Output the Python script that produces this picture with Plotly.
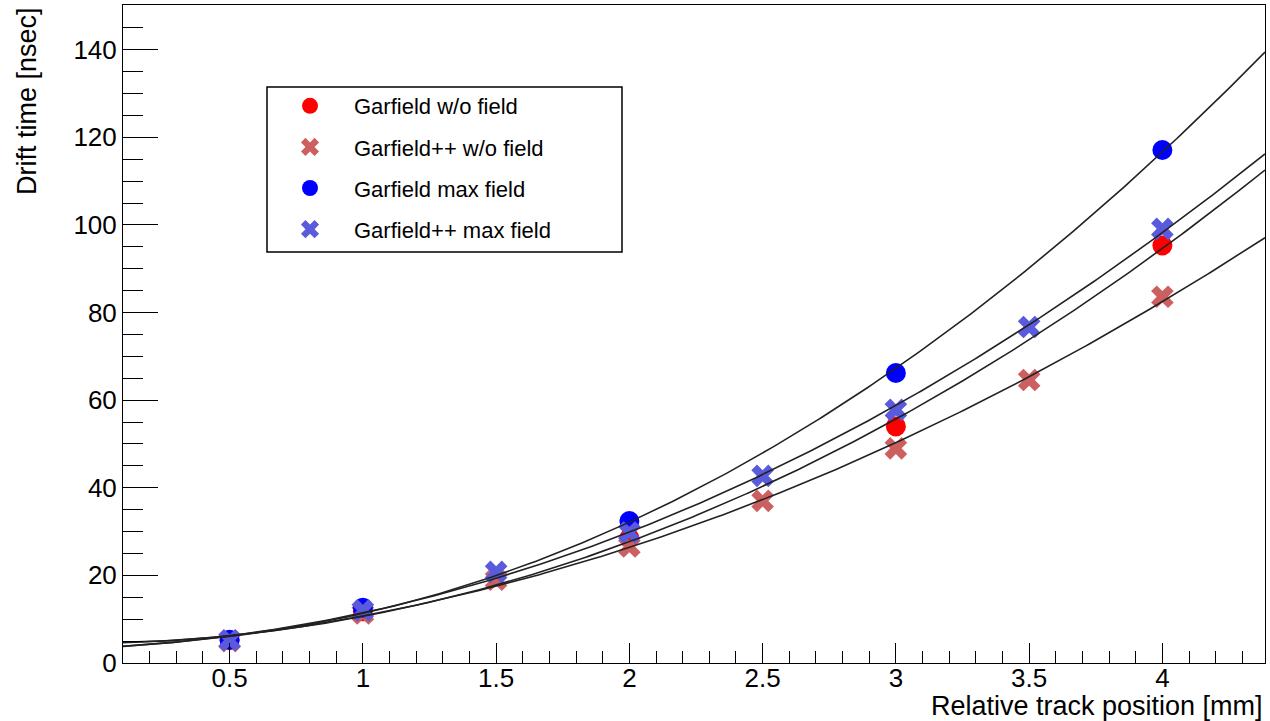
import numpy as np
import plotly.graph_objects as go

# ---- data ----
x_garfield = [0.5, 1.0, 2.0, 3.0, 4.0]
garfield_nofield = [5.2, 11.8, 28.5, 54.0, 95.3]
garfield_maxfield = [5.3, 12.6, 32.4, 66.2, 117.1]

x_garfieldpp = [0.5, 1.0, 1.5, 2.0, 2.5, 3.0, 3.5, 4.0]
garfieldpp_nofield = [5.0, 11.3, 19.0, 26.6, 37.0, 49.0, 64.6, 83.6]
garfieldpp_maxfield = [5.2, 12.0, 20.8, 29.8, 42.7, 57.8, 76.7, 99.1]

x_range = [0.1, 4.385]
y_range = [0, 150.2]
x_ticks = [0.5, 1, 1.5, 2, 2.5, 3, 3.5, 4]
x_ticklabels = ["0.5", "1", "1.5", "2", "2.5", "3", "3.5", "4"]
y_ticks = [0, 20, 40, 60, 80, 100, 120, 140]

FONT = "Liberation Sans, Arial, sans-serif"

series = [
    ("Garfield w/o field", x_garfield, garfield_nofield, "circle", "#FF0000"),
    ("Garfield++ w/o field", x_garfieldpp, garfieldpp_nofield, "x", "#CC6060"),
    ("Garfield max field", x_garfield, garfield_maxfield, "circle", "#0000FF"),
    ("Garfield++ max field", x_garfieldpp, garfieldpp_maxfield, "x", "#5A5ADC"),
]

fig = go.Figure()
for i, (name, xs, ys, sym, col) in enumerate(series):
    fig.add_trace(go.Scatter(
        x=xs, y=ys, mode="markers", name=name,
        legendgroup=f"g{i}",
        marker=dict(symbol=sym, size=20, color=col, line=dict(width=0)),
    ))

# quadratic fit curves (as in the reference, one per series)
xf = np.linspace(x_range[0], x_range[1], 300)
for name, xs, ys, sym, col in series:
    c = np.polyfit(xs, ys, 2)
    fig.add_trace(go.Scatter(
        x=xf, y=np.polyval(c, xf), mode="lines", showlegend=False,
        line=dict(color="#222222", width=1.6), hoverinfo="skip",
    ))

L, R, T, B = 123, 5, 5, 58
W, H = 1270, 721
pw, ph = W - L - R, H - T - B


def px(xp):
    return (xp - L) / pw


def py(yp):
    return (H - B - yp) / ph


fig.update_layout(
    width=W, height=H,
    margin=dict(l=L, r=R, t=T, b=B, autoexpand=False),
    paper_bgcolor="white", plot_bgcolor="white",
    font=dict(family=FONT, color="black", size=26),
    showlegend=True,
    legend=dict(
        x=px(266), y=py(87) + 0.003, xanchor="left", yanchor="top",
        borderwidth=0, bgcolor="rgba(0,0,0,0)",
        font=dict(family=FONT, size=22, color="black"),
        itemwidth=78, tracegroupgap=9.5,
    ),
    shapes=[
        dict(type="rect", xref="paper", yref="paper",
             x0=px(267), x1=px(622), y0=py(252), y1=py(87),
             line=dict(color="black", width=1.5), fillcolor="white",
             layer="below"),
    ],
    xaxis=dict(
        range=x_range, showgrid=False, zeroline=False,
        showline=True, linecolor="black", linewidth=1, mirror=True,
        ticks="inside", ticklen=20, tickwidth=1, tickcolor="black",
        tickvals=x_ticks, ticktext=x_ticklabels,
        tickfont=dict(family=FONT, size=26, color="black"),
        ticklabelstandoff=-8,
        minor=dict(dtick=0.1, tick0=0, ticks="inside", ticklen=12,
                   tickwidth=1, tickcolor="black"),
        automargin=False,
    ),
    yaxis=dict(
        range=y_range, showgrid=False, zeroline=False,
        showline=True, linecolor="black", linewidth=1, mirror=True,
        ticks="inside", ticklen=35, tickwidth=1, tickcolor="black",
        tickvals=y_ticks,
        tickfont=dict(family=FONT, size=26, color="black"),
        minor=dict(dtick=5, tick0=0, ticks="inside", ticklen=20,
                   tickwidth=1, tickcolor="black"),
        automargin=False,
    ),
    annotations=[
        dict(text="Drift time [nsec]", xref="paper", yref="paper",
             x=px(27), y=1.0, xanchor="center", yanchor="top",
             textangle=-90, showarrow=False,
             font=dict(family=FONT, size=27, color="black")),
        dict(text="Relative track position [mm]", xref="paper", yref="paper",
             x=1.0, y=py(706), xanchor="right", yanchor="middle",
             showarrow=False,
             font=dict(family=FONT, size=27, color="black")),
    ],
)

fig.write_html(
    "out.html",
    config={"displayModeBar": False},
    post_script="document.body.style.margin='0';document.body.style.overflow='hidden';",
)
